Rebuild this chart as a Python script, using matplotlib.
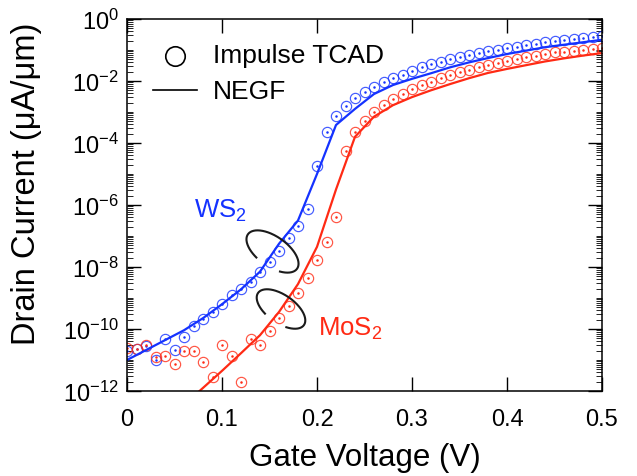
import numpy as np
import matplotlib
matplotlib.use("Agg")
import matplotlib.pyplot as plt
from matplotlib.ticker import FixedLocator, LogLocator, NullFormatter, FuncFormatter

plt.rcParams['font.family'] = ['Liberation Sans', 'DejaVu Sans']
plt.rcParams['mathtext.default'] = 'regular'

# gate voltage sweep of the TCAD data (V)
vg_tcad = np.round(np.arange(0, 0.505, 0.01), 2)
# log10 of drain current (uA/um)
ws2_tcad_log = [-10.7, -10.65, -10.54, -11.0, -10.31, -10.68, -10.26, -9.89, -9.68, -9.46,
                -9.19, -8.9, -8.72, -8.47, -8.16, -7.85, -7.47, -7.06, -6.67, -6.13,
                -4.74, -3.64, -3.13, -2.82, -2.56, -2.37, -2.20, -2.04, -1.91, -1.81,
                -1.67, -1.56, -1.45, -1.38, -1.29, -1.24, -1.16, -1.10, -1.04, -0.99,
                -0.95, -0.89, -0.84, -0.80, -0.75, -0.72, -0.69, -0.65, -0.61, -0.58,
                -0.54]
mos2_tcad_log = [-10.6, -10.65, -10.5, -10.91, -10.86, -11.13, -10.70, -10.70, -11.06, -11.56,
                 -10.52, -10.86, -11.72, -10.32, -10.52, -10.07, -9.66, -9.27, -8.84, -8.34,
                 -7.79, -7.18, -6.40, -4.25, -3.63, -3.28, -3.01, -2.77, -2.58, -2.42,
                 -2.26, -2.13, -2.02, -1.91, -1.81, -1.72, -1.63, -1.56, -1.48, -1.42,
                 -1.34, -1.29, -1.24, -1.18, -1.13, -1.08, -1.05, -1.02, -0.99, -0.97,
                 -0.95]

# NEGF curves
vg_ws2_negf = [0.00, 0.02, 0.04, 0.06, 0.08, 0.10, 0.12, 0.14, 0.16, 0.18, 0.20, 0.22, 0.24,
               0.26, 0.28, 0.30, 0.32, 0.34, 0.36, 0.38, 0.40, 0.42, 0.44, 0.46, 0.48, 0.50]
ws2_negf_log = [-11.0, -10.68, -10.36, -10.04, -9.65, -9.20, -8.72, -8.15, -7.25, -6.50,
                -5.0, -3.42, -2.90, -2.42, -2.13, -1.93, -1.75, -1.56, -1.40, -1.26,
                -1.13, -1.02, -0.91, -0.83, -0.75, -0.67]
vg_mos2_negf = [0.06, 0.08, 0.10, 0.12, 0.14, 0.16, 0.18, 0.20, 0.22, 0.24,
                0.26, 0.28, 0.30, 0.32, 0.34, 0.36, 0.38, 0.40, 0.42, 0.44, 0.46, 0.48, 0.50]
mos2_negf_log = [-12.45, -11.9, -11.35, -10.78, -10.2, -9.45, -8.55, -7.35, -5.5, -3.80,
                 -3.15, -2.78, -2.52, -2.30, -2.10, -1.91, -1.74, -1.61, -1.49, -1.37,
                 -1.27, -1.18, -1.10]

blue = '#1432ff'
red = '#ff2a14'

fig = plt.figure(figsize=(6.37, 4.77), dpi=100)
ax = fig.add_axes([127 / 637, 85 / 477, 475 / 637, 372 / 477])
AX_W, AX_H = 475.0, 372.0  # axes size in pixels

for vals, c in [(ws2_tcad_log, blue), (mos2_tcad_log, red)]:
    cur = 10.0 ** np.array(vals)
    ax.plot(vg_tcad, cur, ls='none', marker='o', ms=7.4, mfc='none', mec=c, mew=0.85, alpha=0.8)
    ax.plot(vg_tcad, cur, ls='none', marker='.', ms=1.6, color=c)

ax.plot(vg_ws2_negf, 10.0 ** np.array(ws2_negf_log), color=blue, lw=1.6)
ax.plot(vg_mos2_negf, 10.0 ** np.array(mos2_negf_log), color=red, lw=1.6)

ax.set_yscale('log')
ax.set_xlim(0, 0.5)
ax.set_ylim(1e-12, 1)

ax.xaxis.set_major_locator(FixedLocator([0, 0.1, 0.2, 0.3, 0.4, 0.5]))
ax.xaxis.set_major_formatter(FuncFormatter(lambda v, p: '0' if v == 0 else f'{v:.1f}'))
ax.yaxis.set_major_locator(FixedLocator(10.0 ** np.arange(-12, 1, 2)))
ax.yaxis.set_major_formatter(FuncFormatter(
    lambda v, p: r'$10^{%d}$' % int(round(np.log10(v))) if v < 1 else r'$10^{0}$'))
ax.yaxis.set_minor_locator(LogLocator(base=10, subs=np.arange(1, 10), numticks=100))
ax.yaxis.set_minor_formatter(NullFormatter())

ax.tick_params(which='major', direction='in', length=10, width=1.0, labelsize=17,
               top=True, right=True)
ax.tick_params(axis='x', which='major', pad=12)
ax.tick_params(axis='y', which='major', pad=6)
ax.tick_params(which='minor', direction='in', length=4, width=0.6, left=True, right=True)
for s in ax.spines.values():
    s.set_linewidth(1.1)

ax.set_xlabel('Gate Voltage (V)', fontsize=22.5, labelpad=9)
ax.set_ylabel('Drain Current (μA/μm)', fontsize=23.5)
ax.yaxis.set_label_coords(-0.178, 0.56)


def px(x, y):
    # pixel position (image coords) -> axes fraction
    return (x - 127) / AX_W, (392 - y) / AX_H


# legend drawn by hand
lx, ly = px(175, 57)
ax.plot([lx], [ly], transform=ax.transAxes, marker='o', ms=14, mfc='none', mec='k', mew=1.2,
        clip_on=False)
x0, y0 = px(153, 91)
x1, _ = px(197, 91)
ax.plot([x0, x1], [y0, y0], transform=ax.transAxes, color='k', lw=1.2, clip_on=False)
tx, ty = px(213, 63)
ax.text(tx, ty, 'Impulse TCAD', transform=ax.transAxes, fontsize=19, va='baseline')
tx, ty = px(213, 99)
ax.text(tx, ty, 'NEGF', transform=ax.transAxes, fontsize=19, va='baseline')

# curve labels
tx, ty = px(194, 218)
ax.text(tx, ty, 'WS$_2$', transform=ax.transAxes, fontsize=18.5, color=blue, va='baseline')
tx, ty = px(318, 336)
ax.text(tx, ty, 'MoS$_2$', transform=ax.transAxes, fontsize=18.5, color=red, va='baseline')


def arc(cx, cy, a, b, ang, t1, t2):
    t = np.radians(np.linspace(t1, t2, 200))
    phi = np.radians(ang)
    u, v = a * np.cos(t), b * np.sin(t)
    dx = u * np.cos(phi) - v * np.sin(phi)
    dy = u * np.sin(phi) + v * np.cos(phi)
    xs = (cx - 127 + dx) / AX_W
    ys = (392 - cy + dy) / AX_H
    ax.plot(xs, ys, transform=ax.transAxes, color='#1a1a1a', lw=1.5, clip_on=False)


arc(272.5, 252.5, 30, 15, -35, 306, 611)
arc(281, 310, 28, 14, -35, 302, 608)

fig.savefig('out.png', dpi=100)
